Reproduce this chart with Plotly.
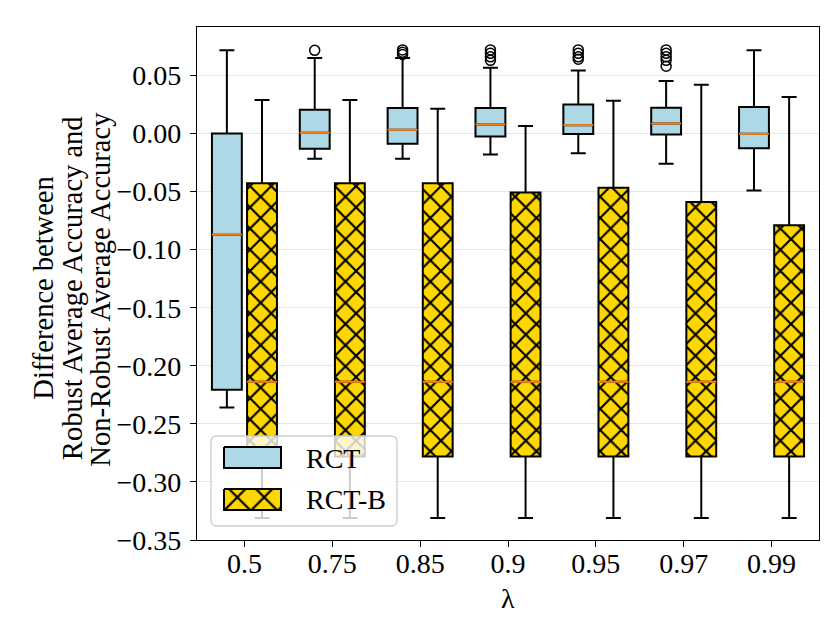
import math
import plotly.graph_objects as go

# lambda values on the x axis
lambdas = ["0.5", "0.75", "0.85", "0.9", "0.95", "0.97", "0.99"]

# RCT box stats
rct_upper = [0.0716, 0.0650, 0.0650, 0.0566, 0.0543, 0.0452, 0.0716]
rct_q3 = [0.0000, 0.0204, 0.0219, 0.0219, 0.0250, 0.0222, 0.0228]
rct_median = [-0.0871, 0.0006, 0.0032, 0.0078, 0.0072, 0.0086, -0.0003]
rct_q1 = [-0.2207, -0.0132, -0.0089, -0.0026, -0.0005, -0.0009, -0.0126]
rct_lower = [-0.2360, -0.0218, -0.0218, -0.0181, -0.0169, -0.0261, -0.0491]
rct_outliers = [
    [],
    [0.0716],
    [0.0720, 0.0700, 0.0680],
    [0.0720, 0.0690, 0.0660, 0.0630],
    [0.0720, 0.0690, 0.0660, 0.0640],
    [0.0720, 0.0690, 0.0660, 0.0630, 0.0580],
    [],
]

# RCT-B box stats
rctb_upper = [0.0288, 0.0288, 0.0213, 0.0064, 0.0282, 0.0420, 0.0314]
rctb_q3 = [-0.0428, -0.0428, -0.0428, -0.0509, -0.0468, -0.0589, -0.0790]
rctb_median = [-0.2138, -0.2138, -0.2138, -0.2138, -0.2138, -0.2138, -0.2138]
rctb_q1 = [-0.2780, -0.2780, -0.2780, -0.2780, -0.2780, -0.2780, -0.2780]
rctb_lower = [-0.3310, -0.3310, -0.3310, -0.3310, -0.3310, -0.3310, -0.3310]

y_ticks = [0.05, 0.00, -0.05, -0.10, -0.15, -0.20, -0.25, -0.30, -0.35]

FONT = "Liberation Serif"
BLUE = "#add8e6"
GOLD = "#ffd700"
ORANGE = "#ff7f0e"

W, H = 830, 623
ML, MR, MT, MB = 189, 19, 19, 91
PW, PH = W - ML - MR, H - MT - MB

pos = list(range(len(lambdas)))
shift = 0.2
box_w = 0.34
rct_x = [p - shift for p in pos]
rctb_x = [p + shift for p in pos]


def px_x(x):
    return (x - ML) / PW


def px_y(y):
    return (H - MB - y) / PH


def median_segments(xs, meds):
    sx, sy = [], []
    for x, m in zip(xs, meds):
        sx += [x - box_w / 2, x + box_w / 2, None]
        sy += [m, m, None]
    return sx, sy


def rounded_rect(x0, y0, x1, y1, r):
    # pixel corners -> closed path in paper units
    pts = []
    corners = [(x1 - r, y0 + r, -90, 0), (x1 - r, y1 - r, 0, 90),
               (x0 + r, y1 - r, 90, 180), (x0 + r, y0 + r, 180, 270)]
    for cx, cy, a0, a1 in corners:
        for k in range(6):
            a = math.radians(a0 + (a1 - a0) * k / 5)
            pts.append((cx + r * math.cos(a), cy + r * math.sin(a)))
    pts.append(pts[0])
    return [px_x(p[0]) for p in pts], [px_y(p[1]) for p in pts]


def rect(x0, y0, x1, y1):
    xs = [x0, x1, x1, x0, x0]
    ys = [y0, y0, y1, y1, y0]
    return [px_x(v) for v in xs], [px_y(v) for v in ys]


fig = go.Figure()

# hatch fill for RCT-B boxes
fig.add_trace(go.Bar(
    x=rctb_x, y=[a - b for a, b in zip(rctb_q3, rctb_q1)], base=rctb_q1,
    width=box_w, marker=dict(color=GOLD, line=dict(width=0),
                             pattern=dict(shape="x", fgcolor="black", fgopacity=1,
                                          size=15, solidity=0.27)),
    showlegend=False, hoverinfo="skip"))

fig.add_trace(go.Box(
    x=rct_x, q1=rct_q1, median=rct_median, q3=rct_q3,
    lowerfence=rct_lower, upperfence=rct_upper,
    width=box_w, whiskerwidth=0.5, fillcolor=BLUE,
    line=dict(color="black", width=2), boxpoints=False, name="RCT", showlegend=False))

fig.add_trace(go.Box(
    x=rctb_x, q1=rctb_q1, median=rctb_median, q3=rctb_q3,
    lowerfence=rctb_lower, upperfence=rctb_upper,
    width=box_w, whiskerwidth=0.5, fillcolor="rgba(0,0,0,0)",
    line=dict(color="black", width=2), boxpoints=False, name="RCT-B", showlegend=False))

for xs, meds in [(rct_x, rct_median), (rctb_x, rctb_median)]:
    sx, sy = median_segments(xs, meds)
    fig.add_trace(go.Scatter(x=sx, y=sy, mode="lines", line=dict(color=ORANGE, width=2),
                             showlegend=False, hoverinfo="skip"))

ox, oy = [], []
for x, outs in zip(rct_x, rct_outliers):
    ox += [x] * len(outs)
    oy += outs
fig.add_trace(go.Scatter(x=ox, y=oy, mode="markers",
                         marker=dict(symbol="circle-open", size=10, color="black", line=dict(width=1.5)),
                         showlegend=False))

# legend drawn on an overlay axis
lx, ly = rounded_rect(203, 428, 389, 518, 5)
fig.add_trace(go.Scatter(x=lx, y=ly, xaxis="x2", yaxis="y2", mode="lines", fill="toself",
                         fillcolor="rgba(255,255,255,0.8)", line=dict(color="#cccccc", width=1.3),
                         showlegend=False, hoverinfo="skip"))
sx, sy = rect(216, 439, 273, 460)
fig.add_trace(go.Scatter(x=sx, y=sy, xaxis="x2", yaxis="y2", mode="lines", fill="toself",
                         fillcolor=BLUE, line=dict(color="black", width=2),
                         showlegend=False, hoverinfo="skip"))
sx, sy = rect(216, 481, 273, 502)
fig.add_trace(go.Scatter(x=sx, y=sy, xaxis="x2", yaxis="y2", mode="lines", fill="toself",
                         fillcolor=GOLD, line=dict(color="black", width=2),
                         fillpattern=dict(shape="x", fgcolor="black", bgcolor=GOLD, fgopacity=1,
                                          size=19, solidity=0.22),
                         showlegend=False, hoverinfo="skip"))

annotations = [
    dict(text="RCT", x=px_x(296), y=px_y(450)),
    dict(text="RCT-B", x=px_x(296), y=px_y(491)),
]
annotations = [dict(a, xref="paper", yref="paper", xanchor="left", yanchor="middle",
                    showarrow=False, font=dict(family=FONT, size=28, color="black"))
               for a in annotations]

title_lines = ["Difference between", "Robust Average Accuracy and", "Non-Robust Average Accuracy"]
for k, line in enumerate(title_lines):
    annotations.append(dict(text=line, x=px_x(36 + 28.5 * k), y=0.49, xref="paper", yref="paper",
                            textangle=-90, xanchor="center", yanchor="middle", showarrow=False,
                            font=dict(family=FONT, size=28.5, color="black")))
annotations.append(dict(text="λ", x=0.5, y=px_y(590), xref="paper", yref="paper",
                        xanchor="center", yanchor="middle", showarrow=False,
                        font=dict(family=FONT, size=28, color="black")))

fig.update_layout(
    width=W, height=H,
    margin=dict(l=ML, r=MR, t=MT, b=MB),
    paper_bgcolor="white", plot_bgcolor="white",
    boxmode="overlay", barmode="overlay",
    font=dict(family=FONT, size=28, color="black"),
    annotations=annotations,
    xaxis=dict(range=[-0.54, 6.54], tickvals=pos, ticktext=lambdas, showgrid=False, zeroline=False,
               showline=True, linecolor="black", linewidth=1.3, mirror=True,
               ticks="outside", ticklen=6, tickcolor="black", tickwidth=1.3,
               ticklabelstandoff=-8),
    yaxis=dict(range=[-0.35, 0.0917], tickvals=y_ticks,
               ticktext=[f"{v:.2f}".replace("-", "−") if v != 0 else "0.00" for v in y_ticks],
               showgrid=True, gridcolor="#e6e6e6", gridwidth=1.3, zeroline=False,
               showline=True, linecolor="black", linewidth=1.3, mirror=True,
               ticks="outside", ticklen=6, tickcolor="black", tickwidth=1.3,
               ticklabelstandoff=3),
    xaxis2=dict(overlaying="x", anchor="y2", range=[0, 1], visible=False, fixedrange=True),
    yaxis2=dict(overlaying="y", anchor="x2", range=[0, 1], visible=False, fixedrange=True),
)

fig.write_html("out.html")
